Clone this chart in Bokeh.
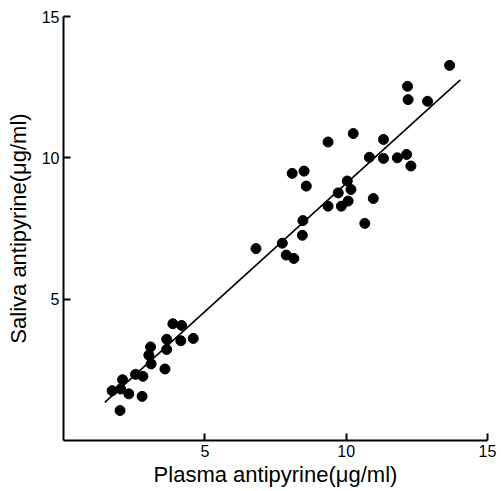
from bokeh.plotting import figure
from bokeh.models import Range1d, FixedTicker
from bokeh.embed import file_html
from bokeh.resources import INLINE

plasma = [13.66, 12.17, 12.19, 12.88, 10.25, 9.36, 11.32, 10.82, 11.32, 11.81,
          12.14, 12.29, 8.09, 8.51, 8.59, 10.04, 10.17, 9.72, 9.36, 9.83,
          10.07, 10.96, 10.66, 8.47, 8.45, 7.74, 6.81, 7.88, 8.15, 3.87,
          4.18, 4.59, 3.65, 4.15, 3.08, 3.65, 3.02, 3.10, 3.59, 2.55,
          2.81, 2.09, 1.72, 2.02, 2.31, 2.78, 2.00]
saliva = [13.27, 12.53, 12.06, 12.00, 10.86, 10.56, 10.65, 10.02, 9.98, 10.00,
          10.12, 9.71, 9.45, 9.53, 9.00, 9.18, 8.88, 8.76, 8.29, 8.29,
          8.47, 8.56, 7.68, 7.78, 7.26, 6.98, 6.79, 6.56, 6.44, 4.13,
          4.07, 3.61, 3.58, 3.53, 3.31, 3.22, 3.02, 2.71, 2.53, 2.34,
          2.27, 2.15, 1.76, 1.82, 1.65, 1.56, 1.06]

fit_x = [1.46, 14.04]
fit_y = [1.35, 12.76]

ticks = [5, 10, 15]

FONT = "Liberation Sans"

p = figure(width=500, height=490, output_backend="svg", toolbar_location=None,
           x_range=Range1d(0, 15), y_range=Range1d(0, 15),
           min_border_left=63, min_border_top=16, min_border_right=13,
           min_border_bottom=50)
p.frame_width = 424
p.frame_height = 424
p.outline_line_color = None
p.grid.visible = False
p.background_fill_color = "white"
p.border_fill_color = "white"

p.line(fit_x, fit_y, line_color="black", line_width=1.6)
p.scatter(plasma, saliva, size=10, fill_color="black", line_color="black")

for ax in (p.xaxis[0], p.yaxis[0]):
    ax.ticker = FixedTicker(ticks=ticks)
    ax.minor_tick_line_color = None
    ax.major_tick_in = 7
    ax.major_tick_out = 0
    ax.major_tick_line_width = 2
    ax.axis_line_width = 2
    ax.axis_line_color = "black"
    ax.major_tick_line_color = "black"
    ax.major_label_text_font = FONT
    ax.major_label_text_font_size = "16px"
    ax.major_label_text_color = "black"
    ax.axis_label_text_font = FONT
    ax.axis_label_text_font_size = "22px"
    ax.axis_label_text_font_style = "normal"
    ax.axis_label_text_color = "black"

p.xaxis[0].axis_label = "Plasma antipyrine(μg/ml)"
p.yaxis[0].axis_label = "Saliva antipyrine(μg/ml)"
p.xaxis[0].major_label_standoff = 4
p.xaxis[0].axis_label_standoff = 2
p.yaxis[0].major_label_standoff = 4
p.yaxis[0].axis_label_standoff = 8

open("out.html", "w").write(file_html(p, INLINE))
